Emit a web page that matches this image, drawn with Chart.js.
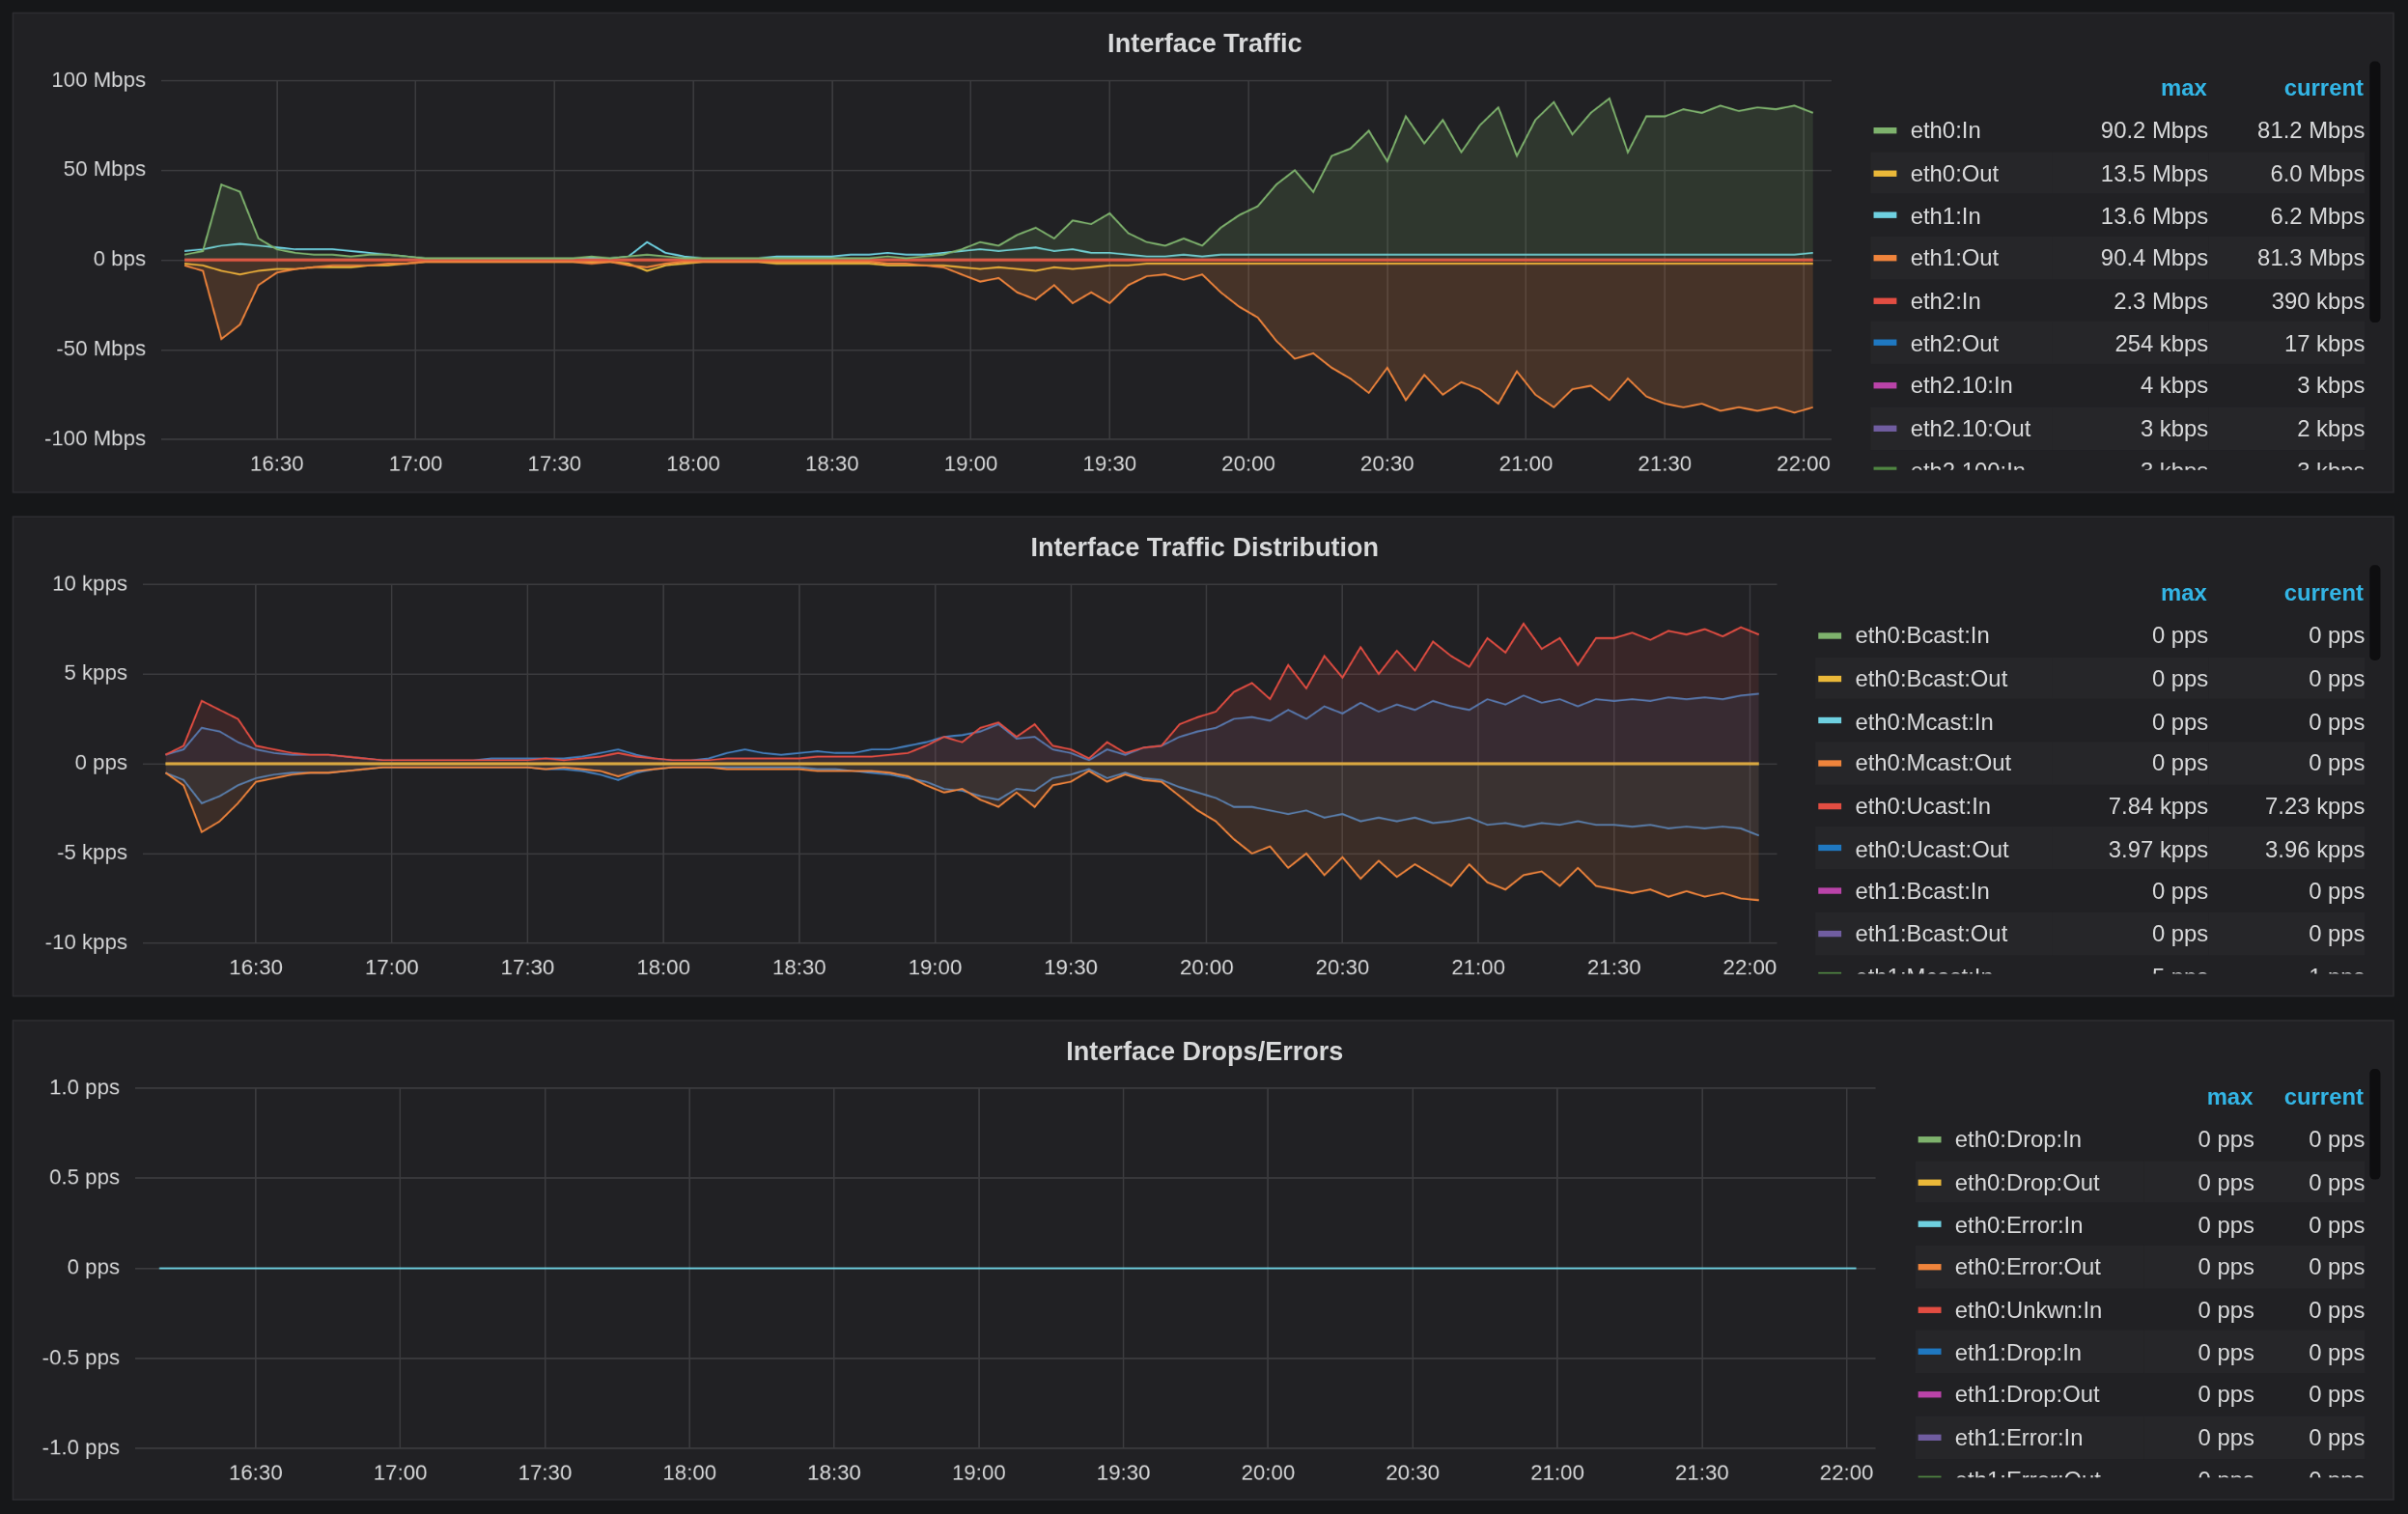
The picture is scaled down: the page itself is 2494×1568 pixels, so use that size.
<!DOCTYPE html>
<html><head><meta charset="utf-8">
<script src="https://cdn.jsdelivr.net/npm/chart.js@4.4.1/dist/chart.umd.min.js"></script>
<style>
html,body{margin:0;padding:0;background:#161719;overflow:hidden}
#root{position:absolute;left:0;top:0;width:1568px;height:986px;transform:scale(1.5906);transform-origin:0 0;font-family:"Liberation Sans",Arial,sans-serif}
.panel{position:absolute;left:8px;width:1551px;height:313px;background:#212124;border:1px solid #2c2c30;box-sizing:border-box}
.title{position:absolute;left:0;width:1551px;top:10px;text-align:center;color:#d8d9da;font-weight:bold;font-size:17px}
.cv{position:absolute}
.leg{position:absolute;overflow:hidden;color:#d8d9da;font-size:15px}
.leg table{border-collapse:collapse;width:100%}
.leg td{height:27.7px;padding:0;white-space:nowrap}
.leg tr:nth-child(odd) td{background:#262629}
.leg th{color:#33b5e5;font-weight:bold;text-align:right;height:28px;font-size:15px}
.sw{display:inline-block;width:15px;height:4px;margin:0 9px 3px 2px;vertical-align:middle}
.num{text-align:right}
.sb{position:absolute;width:7px;background:#0e0e10;border-radius:3px}
</style></head><body><div id="root">
<div class="panel" style="top:8px"><div class="title">Interface Traffic</div></div>
<div class="panel" style="top:336px"><div class="title">Interface Traffic Distribution</div></div>
<div class="panel" style="top:664px"><div class="title">Interface Drops/Errors</div></div>
<canvas id="c1" class="cv"></canvas><canvas id="c2" class="cv"></canvas><canvas id="c3" class="cv"></canvas>
<div id="l1" class="leg" style="left:1218px;top:41px;width:322px;height:265px"></div>
<div id="l2" class="leg" style="left:1182px;top:370px;width:358px;height:264px"></div>
<div id="l3" class="leg" style="left:1247px;top:698px;width:293px;height:264px"></div>
<div class="sb" style="left:1543px;top:40px;height:170px"></div>
<div class="sb" style="left:1543px;top:368px;height:62px"></div>
<div class="sb" style="left:1543px;top:696px;height:72px"></div>
</div>
<script>
// ---- data ----
const startMin = 16*60+10, stepMin = 4;
const tickLabels = ["16:30","17:00","17:30","18:00","18:30","19:00","19:30","20:00","20:30","21:00","21:30","22:00"];
const eth0In = [3,5,42,38,12,6,4,3,3,2, 3,3,2,1,1,1,1,1,1,1, 1,1,2,1,2,3,2,1,1,1, 1,1,1,1,1,1,1,1,2,1, 2,3,6,10,8,14,18,12,22,20, 26,15,10,8,12,8,18,25,30,42, 50,38,58,62,72,55,80,65,78,60, 75,85,58,78,88,70,82,90,60,80, 80,84,82,86,83,85,84,86,82];
const eth1Out = [-3,-6,-44,-36,-14,-7,-5,-4,-3,-3, -3,-2,-2,-1,-1,-1,-1,-1,-1,-1, -1,-1,-2,-1,-3,-4,-2,-1,-1,-1, -1,-1,-1,-1,-1,-1,-1,-1,-2,-2, -3,-4,-8,-12,-10,-18,-22,-14,-24,-18, -24,-14,-9,-8,-11,-8,-18,-26,-32,-45, -55,-52,-60,-66,-74,-60,-78,-64,-75,-68, -72,-80,-62,-75,-82,-72,-70,-78,-66,-76, -80,-82,-80,-84,-82,-84,-82,-85,-82];
const eth1In = [5,6,8,9,8,7,6,6,6,5, 4,3,2,1,1,1,1,1,1,1, 1,1,1,1,2,10,4,2,1,1, 1,1,2,2,2,2,3,3,4,3, 3,4,5,6,5,6,7,5,6,4, 4,3,2,2,3,2,3,3,3,3, 3,3,3,3,3,3,3,3,3,3, 3,3,3,3,3,3,3,3,3,3, 3,3,3,3,3,3,3,3,4];
const eth0Out = [-2,-3,-6,-8,-6,-5,-5,-4,-4,-4, -3,-3,-2,-1,-1,-1,-1,-1,-1,-1, -1,-1,-1,-1,-2,-6,-3,-2,-1,-1, -1,-1,-2,-2,-2,-2,-2,-2,-3,-3, -3,-3,-4,-5,-4,-5,-6,-4,-5,-4, -3,-3,-2,-2,-2,-2,-2,-2,-2,-2, -2,-2,-2,-2,-2,-2,-2,-2,-2,-2, -2,-2,-2,-2,-2,-2,-2,-2,-2,-2, -2,-2,-2,-2,-2,-2,-2,-2,-2];
const ucastIn = [0.5,1,3.5,3,2.5,1,0.8,0.6,0.5,0.5, 0.4,0.3,0.2,0.2,0.2,0.2,0.2,0.2,0.2,0.2, 0.2,0.3,0.2,0.3,0.4,0.6,0.4,0.3,0.2,0.2, 0.2,0.3,0.3,0.3,0.3,0.3,0.4,0.4,0.4,0.4, 0.5,0.6,1.0,1.5,1.2,2.0,2.3,1.5,2.2,1.0, 0.8,0.3,1.2,0.6,0.9,1.0,2.2,2.6,2.9,4.0, 4.5,3.6,5.5,4.2,6.0,4.8,6.5,5.0,6.3,5.2, 6.8,6.0,5.4,7.0,6.2,7.8,6.4,7.0,5.5,7.0, 7.0,7.3,6.9,7.4,7.2,7.5,7.1,7.6,7.2];
const ucastOut = [0.5,0.8,2,1.8,1.2,0.8,0.6,0.5,0.5,0.5, 0.4,0.3,0.2,0.2,0.2,0.2,0.2,0.2,0.3,0.3, 0.3,0.3,0.3,0.4,0.6,0.8,0.5,0.3,0.2,0.2, 0.3,0.6,0.8,0.6,0.5,0.6,0.7,0.6,0.6,0.8, 0.8,1.0,1.2,1.5,1.6,1.8,2.2,1.4,1.5,0.8, 0.6,0.2,0.8,0.5,0.9,1.0,1.5,1.8,2.0,2.5, 2.6,2.4,3.0,2.5,3.2,2.8,3.4,2.9,3.3,3.0, 3.5,3.2,3.0,3.6,3.3,3.8,3.4,3.6,3.2,3.6, 3.5,3.6,3.5,3.7,3.6,3.7,3.6,3.8,3.9];
const eth1UcastOut = [-0.5,-1.2,-3.8,-3.2,-2.2,-1,-0.8,-0.6,-0.5,-0.5, -0.4,-0.3,-0.2,-0.2,-0.2,-0.2,-0.2,-0.2,-0.2,-0.2, -0.2,-0.3,-0.2,-0.3,-0.4,-0.7,-0.4,-0.3,-0.2,-0.2, -0.2,-0.3,-0.3,-0.3,-0.3,-0.3,-0.4,-0.4,-0.4,-0.4, -0.5,-0.7,-1.2,-1.6,-1.4,-2.0,-2.4,-1.6,-2.4,-1.2, -1.0,-0.4,-1.0,-0.6,-0.9,-1.0,-1.8,-2.6,-3.2,-4.2, -5.0,-4.6,-5.8,-5.0,-6.2,-5.2,-6.4,-5.4,-6.3,-5.6, -6.2,-6.8,-5.6,-6.6,-7.0,-6.2,-6.0,-6.8,-5.8,-6.8, -7.0,-7.2,-7.0,-7.4,-7.1,-7.4,-7.2,-7.5,-7.6];
const eth1UcastIn = [-0.5,-0.9,-2.2,-1.8,-1.2,-0.8,-0.6,-0.5,-0.5,-0.5, -0.4,-0.3,-0.2,-0.2,-0.2,-0.2,-0.2,-0.2,-0.2,-0.2, -0.2,-0.3,-0.3,-0.4,-0.6,-0.9,-0.5,-0.3,-0.2,-0.2, -0.2,-0.2,-0.2,-0.2,-0.2,-0.2,-0.3,-0.3,-0.4,-0.5, -0.6,-0.8,-1.0,-1.4,-1.5,-1.8,-2.0,-1.4,-1.5,-0.8, -0.6,-0.3,-0.8,-0.5,-0.8,-0.9,-1.3,-1.6,-1.9,-2.4, -2.4,-2.6,-2.8,-2.6,-3.0,-2.8,-3.2,-3.0,-3.2,-3.0, -3.3,-3.2,-3.0,-3.4,-3.3,-3.5,-3.3,-3.4,-3.2,-3.4, -3.4,-3.5,-3.4,-3.6,-3.5,-3.6,-3.5,-3.6,-4.0];
const zeros = eth0In.map(()=>0);
const legend1 = [["eth0:In","#7eb26d","90.2 Mbps","81.2 Mbps"],["eth0:Out","#eab839","13.5 Mbps","6.0 Mbps"],["eth1:In","#6ed0e0","13.6 Mbps","6.2 Mbps"],["eth1:Out","#ef843c","90.4 Mbps","81.3 Mbps"],["eth2:In","#e24d42","2.3 Mbps","390 kbps"],["eth2:Out","#1f78c1","254 kbps","17 kbps"],["eth2.10:In","#ba43a9","4 kbps","3 kbps"],["eth2.10:Out","#705da0","3 kbps","2 kbps"],["eth2.100:In","#508642","3 kbps","3 kbps"]];
const legend2 = [["eth0:Bcast:In","#7eb26d","0 pps","0 pps"],["eth0:Bcast:Out","#eab839","0 pps","0 pps"],["eth0:Mcast:In","#6ed0e0","0 pps","0 pps"],["eth0:Mcast:Out","#ef843c","0 pps","0 pps"],["eth0:Ucast:In","#e24d42","7.84 kpps","7.23 kpps"],["eth0:Ucast:Out","#1f78c1","3.97 kpps","3.96 kpps"],["eth1:Bcast:In","#ba43a9","0 pps","0 pps"],["eth1:Bcast:Out","#705da0","0 pps","0 pps"],["eth1:Mcast:In","#508642","5 pps","1 pps"]];
const legend3 = [["eth0:Drop:In","#7eb26d","0 pps","0 pps"],["eth0:Drop:Out","#eab839","0 pps","0 pps"],["eth0:Error:In","#6ed0e0","0 pps","0 pps"],["eth0:Error:Out","#ef843c","0 pps","0 pps"],["eth0:Unkwn:In","#e24d42","0 pps","0 pps"],["eth1:Drop:In","#1f78c1","0 pps","0 pps"],["eth1:Drop:Out","#ba43a9","0 pps","0 pps"],["eth1:Error:In","#705da0","0 pps","0 pps"],["eth1:Error:Out","#508642","0 pps","0 pps"]];
// ---- build ----
const times = eth0In.map((_,i)=>startMin+i*stepMin);
const toXY = arr => arr.map((v,i)=>({x:times[i],y:v}));
function legend(id,rows,numW){
  let h='<table><tr><th></th><th style="width:'+numW+'px">max</th><th style="width:'+numW+'px">current</th></tr>';
  rows.forEach(r=>{h+='<tr><td><span class="sw" style="background:'+r[1]+'"></span>'+r[0]+'</td><td class="num">'+r[2]+'</td><td class="num">'+r[3]+'</td></tr>';});
  document.getElementById(id).innerHTML=h+'</table>';
}
legend('l1',legend1,100);legend('l2',legend2,100);legend('l3',legend3,70);
const txt='#d8d9da', grid='#3b3b3e';
function mk(id,box,yAxisW,ymin,ymax,step,yfmt,datasets){
  const c=document.getElementById(id);
  c.style.left=box[0]+'px';c.style.top=box[1]+'px';c.style.width=box[2]+'px';c.style.height=box[3]+'px';
  new Chart(c,{type:'line',data:{datasets},options:{responsive:false,animation:false,devicePixelRatio:2,
    layout:{padding:{top:7,right:2,left:0,bottom:0}},
    plugins:{legend:{display:false},tooltip:{enabled:false}},
    elements:{point:{radius:0},line:{borderWidth:1.2,tension:0}},
    scales:{
      x:{type:'linear',min:965,max:1326,grid:{color:grid,drawTicks:false},border:{display:false},
        afterBuildTicks:s=>{s.ticks=tickLabels.map(l=>{const p=l.split(':');return {value:+p[0]*60+ +p[1]};});},
        ticks:{color:txt,font:{size:14,family:'Liberation Sans'},padding:8,maxRotation:0,autoSkip:false,
          callback:v=>{const h=Math.floor(v/60),m=v%60;return h+':'+(m<10?'0':'')+m;}}},
      y:{min:ymin,max:ymax,grid:{color:grid,drawTicks:false},border:{display:false},
        afterFit:s=>{s.width=yAxisW;},
        ticks:{stepSize:step,color:txt,font:{size:14,family:'Liberation Sans'},padding:10,callback:yfmt}}
    }}});
}
mk('c1',[8,34,1192,285],97,-100,100,50,v=>v===0?'0 bps':v+' Mbps',[
  {data:toXY(eth0In),borderColor:'#7eb26d',backgroundColor:'rgba(126,178,109,0.15)',fill:'origin'},
  {data:toXY(eth1Out),borderColor:'#ef843c',backgroundColor:'rgba(239,132,60,0.18)',fill:'origin'},
  {data:toXY(zeros),borderColor:'#e24d42',borderWidth:2},
  {data:toXY(eth1In),borderColor:'#6ed0e0'},
  {data:toXY(eth0Out),borderColor:'#eab839'}
]);
mk('c2',[8,362,1157,285],85,-10,10,5,v=>v===0?'0 pps':v+' kpps',[
  {data:toXY(ucastIn),borderColor:'#e24d42',backgroundColor:'rgba(226,77,66,0.13)',fill:'origin'},
  {data:toXY(ucastOut),borderColor:'#447ebc',backgroundColor:'rgba(31,120,193,0.08)',fill:'origin'},
  {data:toXY(eth1UcastOut),borderColor:'#ef843c',backgroundColor:'rgba(239,132,60,0.13)',fill:'origin'},
  {data:toXY(eth1UcastIn),borderColor:'#447ebc',backgroundColor:'rgba(31,120,193,0.08)',fill:'origin'},
  {data:toXY(zeros),borderColor:'#eab839',borderWidth:2}
]);
mk('c3',[8,690,1220,286],80,-1,1,0.5,v=>(v===0?'0':v.toFixed(1))+' pps',[
  {data:toXY(zeros),borderColor:'#6ed0e0'}
]);
</script></body></html>
